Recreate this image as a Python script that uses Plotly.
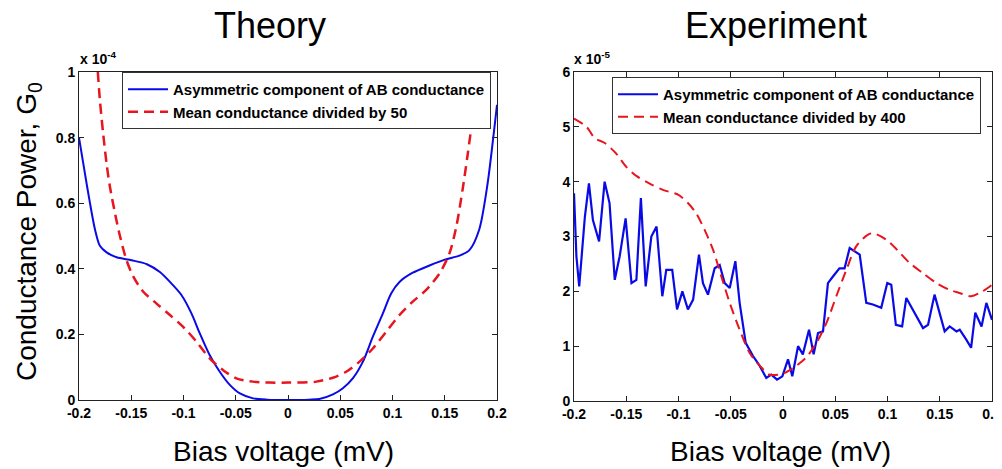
import plotly.graph_objects as go

# ---------------- Theory (values in units of 1e-4) ----------------
th_blue_x = [-0.2, -0.1943, -0.1895, -0.1847, -0.18, -0.1736, -0.164, -0.1497, -0.135, -0.1226,
             -0.1115, -0.102, -0.0924, -0.0844, -0.075, -0.0653, -0.0557, -0.046, -0.0334, -0.02,
             0.0, 0.02, 0.03, 0.043, 0.0525, 0.062, 0.0717, 0.0812, 0.0908, 0.0987, 0.1067,
             0.1194, 0.1354, 0.15, 0.164, 0.1736, 0.183, 0.191, 0.1975, 0.2]
th_blue_y = [0.80, 0.69, 0.60, 0.52, 0.47, 0.45, 0.435, 0.426, 0.414, 0.39,
             0.355, 0.32, 0.264, 0.203, 0.137, 0.086, 0.046, 0.02, 0.005, 0.001,
             0.0, 0.001, 0.003, 0.017, 0.036, 0.066, 0.117, 0.193, 0.264, 0.325, 0.36,
             0.388, 0.41, 0.428, 0.44, 0.457, 0.52, 0.66, 0.83, 0.90]

th_red_x = [-0.182, -0.18, -0.1768, -0.1736, -0.1704, -0.1656, -0.1608, -0.1545, -0.148, -0.1385,
            -0.1258, -0.113, -0.1003, -0.0876, -0.075, -0.0621, -0.0494, -0.0334, -0.0175, 0.0,
            0.027, 0.043, 0.0557, 0.0685, 0.0812, 0.094, 0.1067, 0.1194, 0.132, 0.145, 0.1545,
            0.161, 0.167, 0.172, 0.1767, 0.18, 0.183]
th_red_y = [1.0, 0.914, 0.81, 0.72, 0.65, 0.57, 0.50, 0.426, 0.376, 0.33,
            0.294, 0.259, 0.223, 0.178, 0.127, 0.091, 0.066, 0.056, 0.053, 0.053,
            0.056, 0.068, 0.086, 0.117, 0.157, 0.208, 0.259, 0.30, 0.335, 0.386, 0.447,
            0.528, 0.64, 0.75, 0.86, 0.93, 1.0]

# ---------------- Experiment (values in units of 1e-5) ----------------
ex_blue_x = [-0.2, -0.1977, -0.195, -0.1928, -0.1896, -0.1857, -0.1819, -0.176, -0.1707, -0.166,
             -0.161, -0.1563, -0.1506, -0.145, -0.1403, -0.136, -0.1314, -0.126, -0.121, -0.1155,
             -0.1117, -0.106, -0.1014, -0.0963, -0.091, -0.086, -0.0804, -0.0766, -0.0718, -0.0654,
             -0.0606, -0.0558, -0.051, -0.0456, -0.0415, -0.0357, -0.0287, -0.0223, -0.016, -0.0112,
             -0.0057, -0.0006, 0.0048, 0.0089, 0.0144, 0.019, 0.0249, 0.0293, 0.0335, 0.0383,
             0.043, 0.0478, 0.054, 0.0589, 0.0638, 0.0734, 0.0797, 0.086, 0.094, 0.0998,
             0.1036, 0.108, 0.114, 0.118, 0.126, 0.134, 0.1388, 0.145, 0.1547, 0.1595,
             0.166, 0.1691, 0.1754, 0.18, 0.184, 0.19, 0.1946, 0.2]
ex_blue_y = [3.79, 2.64, 2.09, 2.64, 3.36, 3.97, 3.30, 2.91, 4.00, 3.61,
             2.21, 2.64, 3.33, 2.15, 2.21, 3.70, 2.09, 3.00, 3.18, 1.91,
             2.39, 2.39, 1.67, 2.00, 1.67, 1.85, 2.67, 2.15, 1.94, 2.42,
             2.48, 2.15, 2.06, 2.55, 1.79, 1.06, 0.82, 0.64, 0.42, 0.48,
             0.39, 0.45, 0.76, 0.45, 1.00, 0.85, 1.30, 0.85, 1.24, 1.27,
             2.15, 2.27, 2.42, 2.42, 2.79, 2.67, 1.79, 1.76, 1.70, 2.15,
             2.12, 1.39, 1.36, 1.88, 1.61, 1.33, 1.39, 1.94, 1.27, 1.36,
             1.27, 1.30, 1.12, 0.97, 1.61, 1.36, 1.79, 1.48]

ex_red_x = [-0.2, -0.188, -0.18, -0.171, -0.16, -0.15, -0.14, -0.128, -0.115, -0.1,
            -0.091, -0.083, -0.075, -0.067, -0.059, -0.051, -0.0415, -0.032, -0.022, -0.0128,
            0.0, 0.0096, 0.022, 0.032, 0.0415, 0.051, 0.0606, 0.070, 0.081, 0.086,
            0.099, 0.112, 0.121, 0.134, 0.147, 0.159, 0.169, 0.18, 0.191, 0.2]
ex_red_y = [5.15, 5.00, 4.79, 4.71, 4.52, 4.27, 4.10, 3.97, 3.85, 3.76,
            3.61, 3.42, 3.12, 2.76, 2.27, 1.79, 1.30, 0.88, 0.64, 0.48,
            0.50, 0.60, 0.79, 1.06, 1.42, 1.91, 2.39, 2.82, 3.03, 3.06,
            2.94, 2.70, 2.52, 2.33, 2.15, 2.03, 1.97, 1.91, 2.00, 2.12]

x_ticks = [-0.2, -0.15, -0.1, -0.05, 0, 0.05, 0.1, 0.15, 0.2]
x_ticklabels = ["-0.2", "-0.15", "-0.1", "-0.05", "0", "0.05", "0.1", "0.15", "0.2"]
th_y_ticks = [0, 0.2, 0.4, 0.6, 0.8, 1]
th_y_ticklabels = ["0", "0.2", "0.4", "0.6", "0.8", "1"]
ex_y_ticks = [0, 1, 2, 3, 4, 5, 6]
ex_y_ticklabels = ["0", "1", "2", "3", "4", "5", "6"]

label_blue = "Asymmetric component of AB conductance"
label_red_th = "Mean conductance divided by 50"
label_red_ex = "Mean conductance divided by 400"

BLUE = "#0a0ae6"
RED = "#e8141e"
FONT = "Liberation Sans, Arial, sans-serif"
OFF = 8  # page body margin
W, H = 1002 - OFF, 469 - OFF


def px_x(p):
    return (p - OFF) / W


def px_y(p):
    return 1 - (p - OFF) / H


fig = go.Figure()
fig.add_trace(go.Scatter(x=th_blue_x, y=th_blue_y, mode="lines", name=label_blue,
                         line=dict(color=BLUE, width=2, shape="spline", smoothing=0.8),
                         xaxis="x", yaxis="y", legend="legend"))
fig.add_trace(go.Scatter(x=th_red_x, y=th_red_y, mode="lines", name=label_red_th,
                         line=dict(color=RED, width=2.5, dash="10px,6px", shape="spline", smoothing=0.8),
                         xaxis="x", yaxis="y", legend="legend"))
fig.add_trace(go.Scatter(x=ex_blue_x, y=ex_blue_y, mode="lines", name=label_blue,
                         line=dict(color=BLUE, width=2.2),
                         xaxis="x2", yaxis="y2", legend="legend2"))
fig.add_trace(go.Scatter(x=ex_red_x, y=ex_red_y, mode="lines", name=label_red_ex,
                         line=dict(color=RED, width=2, dash="10px,6px", shape="spline", smoothing=0.8),
                         xaxis="x2", yaxis="y2", legend="legend2"))

axis_common = dict(showline=True, linecolor="#222", linewidth=1, mirror="ticks",
                   ticks="inside", ticklen=5, tickcolor="#222", showgrid=False, zeroline=False,
                   automargin=False,
                   tickfont=dict(family=FONT, size=14, color="black", weight="bold"))

legend_font = dict(family=FONT, size=15, color="black", weight="bold")

fig.update_layout(
    width=W, height=H, margin=dict(l=0, r=0, t=0, b=0, autoexpand=False),
    paper_bgcolor="white", plot_bgcolor="white",
    xaxis=dict(domain=[px_x(79), px_x(497)], range=[-0.2, 0.2], tickvals=x_ticks,
               ticktext=x_ticklabels, anchor="y", **axis_common),
    yaxis=dict(domain=[px_y(400), px_y(72)], range=[0, 1], tickvals=th_y_ticks,
               ticktext=th_y_ticklabels, anchor="x", **axis_common),
    xaxis2=dict(domain=[px_x(574), px_x(992)], range=[-0.2, 0.2], tickvals=x_ticks,
                ticktext=x_ticklabels, anchor="y2", **axis_common),
    yaxis2=dict(domain=[px_y(401), px_y(72)], range=[0, 6], tickvals=ex_y_ticks,
                ticktext=ex_y_ticklabels, anchor="x2", **axis_common),
    legend=dict(x=px_x(122), y=px_y(72), xanchor="left", yanchor="top",
                bgcolor="white", bordercolor="#333", borderwidth=1,
                itemwidth=40, font=legend_font),
    legend2=dict(x=px_x(612), y=px_y(77), xanchor="left", yanchor="top",
                 bgcolor="white", bordercolor="#333", borderwidth=1,
                 itemwidth=40, font=legend_font),
)

ann = [
    dict(text="Theory", x=px_x(270), y=px_y(26), font=dict(size=36)),
    dict(text="Experiment", x=px_x(776), y=px_y(26), font=dict(size=36)),
    dict(text="Bias voltage (mV)", x=px_x(283), y=px_y(451), font=dict(size=28)),
    dict(text="Bias voltage (mV)", x=px_x(780), y=px_y(451), font=dict(size=28)),
    dict(text="Conductance Power, G<sub>0</sub>", x=px_x(28), y=px_y(232), font=dict(size=28), textangle=-90),
]
for a in ann:
    fig.add_annotation(xref="paper", yref="paper", showarrow=False, xanchor="center", yanchor="middle",
                       x=a["x"], y=a["y"], text=a["text"], textangle=a.get("textangle", 0),
                       font=dict(family=FONT, color="black", size=a["font"]["size"]))

fig.add_annotation(xref="paper", yref="paper", showarrow=False, xanchor="left", yanchor="bottom",
                   x=px_x(78), y=px_y(69), text="x 10<sup>-4</sup>",
                   font=dict(family=FONT, size=14, color="black", weight="bold"))
fig.add_annotation(xref="paper", yref="paper", showarrow=False, xanchor="left", yanchor="bottom",
                   x=px_x(572), y=px_y(69), text="x 10<sup>-5</sup>",
                   font=dict(family=FONT, size=14, color="black", weight="bold"))

fig.write_html("out.html")
